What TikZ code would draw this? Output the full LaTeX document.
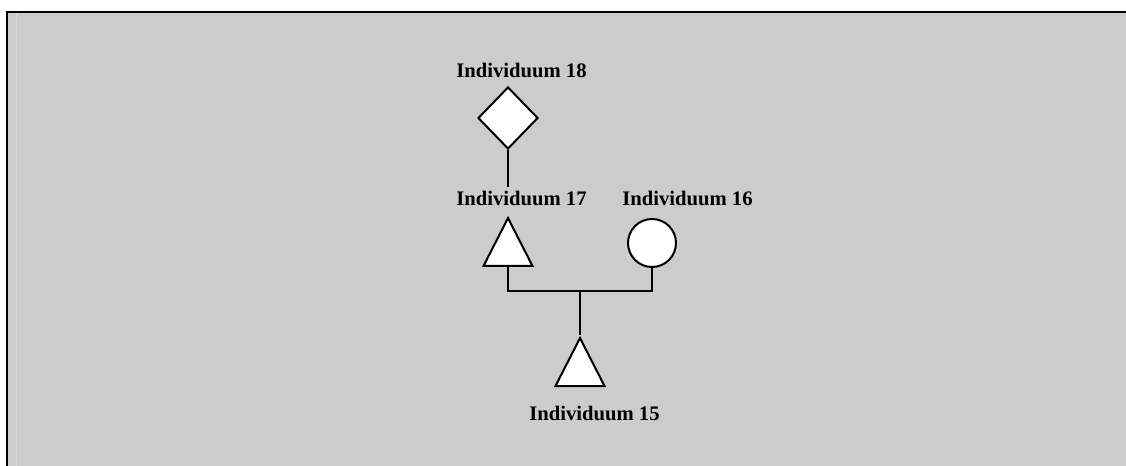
\documentclass[tikz,border=0pt]{standalone}
\usepackage{fontspec}
\setmainfont{Liberation Serif}
\usetikzlibrary{shapes.geometric}
\definecolor{pdgray}{HTML}{CCCCCC}
\definecolor{pdedge}{HTML}{DADADA}
\tikzset{
  person/.style={draw=black, line width=1.5pt, fill=white, inner sep=0pt},
  malebox/.style={person, isosceles triangle, isosceles triangle stretches,
    shape border rotate=90, minimum width=36.75pt, minimum height=36pt, anchor=lower side},
  femalebox/.style={person, circle, minimum size=36pt},
  unknownbox/.style={person, diamond, minimum width=45pt, minimum height=46.5pt},
  namelabel/.style={anchor=base west, inner sep=0pt, font=\fontsize{15.5}{18}\selectfont\bfseries},
  kinline/.style={draw=black, line width=1.5pt}
}
\begin{document}
\begin{tikzpicture}[x=0.75pt, y=-0.75pt]
  \useasboundingbox (0,0) rectangle (1126,466);
  \fill[pdgray] (7,12) rectangle (1126,466);
  \draw[pdedge, line width=0.75pt] (16,13.5) -- (16,466);
  \draw[black, line width=1.5pt] (7,466) -- (7,12.5) -- (1126,12.5);

  \node[unknownbox] (ind18) at (508,118) {};
  \node[malebox] (ind17) at (508,267) {};
  \node[femalebox] (ind16) at (652,243) {};
  \node[malebox] (ind15) at (580,387) {};

  \node[namelabel] (lab18) at (456,78) {Individuum 18};
  \node[namelabel] (lab17) at (456,206) {Individuum 17};
  \node[namelabel] (lab16) at (622,206) {Individuum 16};
  \node[namelabel] (lab15) at (529,420) {Individuum 15};

  \coordinate (stem18) at (508,187);
  \coordinate (join) at (580,291);
  \draw[kinline] (ind18.south) -- (stem18);
  \draw[kinline] (ind17.lower side) |- (join) -| (ind16.south);
  \draw[kinline] (join) -- (ind15.apex);
\end{tikzpicture}
\end{document}
